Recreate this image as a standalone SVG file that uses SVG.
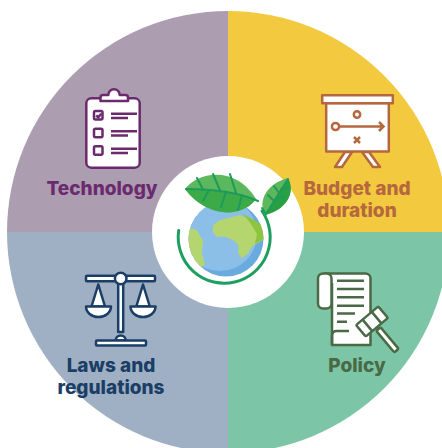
<svg xmlns="http://www.w3.org/2000/svg" width="442" height="448" viewBox="0 0 442 448">
  <style>
    .label { font-family: "Inter", "Liberation Sans", sans-serif; font-weight: 800; font-size: 19px; text-anchor: middle; }
    .ico { stroke-width: 2.5; stroke-linejoin: round; fill: #fff; }
    .ln { stroke-width: 2.5; fill: none; }
    .vein { stroke: #1E9A5C; stroke-width: 2; fill: none; stroke-linecap: round; }
  </style>
  <defs>
    <clipPath id="globeClip"><circle cx="226" cy="239" r="37.5"/></clipPath>
    <clipPath id="bigLeafClip"><path d="M185 189 C198 172 235 165 256 199 C240 220 205 216 185 189 Z"/></clipPath>
    <clipPath id="smallLeafClip"><path d="M265 215 C257 200 268 183 288 178 C296 193 286 210 265 215 Z"/></clipPath>
  </defs>

  <rect width="442" height="448" fill="#fff"/>

  <!-- Quadrant wedges -->
  <g id="wedges">
    <path d="M228 232 V11 A221 221 0 0 0 7 232 Z" fill="#AC9DB1"/>
    <path d="M228 232 V11 A221 221 0 0 1 449 232 Z" fill="#F2C93F"/>
    <path d="M228 232 H449 A221 221 0 0 1 228 453 Z" fill="#7CC6A7"/>
    <path d="M228 232 V453 A221 221 0 0 1 7 232 Z" fill="#A0B0C4"/>
  </g>

  <!-- Technology: clipboard -->
  <g id="technology">
    <g stroke="#6C2A6E">
      <rect class="ico" x="86.3" y="98.3" width="53.4" height="69.4" rx="5"/>
      <path class="ico" d="M100.5 101 V97.5 a2.5 2.5 0 0 1 2.5 -2.5 H108.3 a5.7 5.7 0 0 1 11.4 0 H125.5 a2.5 2.5 0 0 1 2.5 2.5 V101 Z"/>
      <rect class="ico" x="94" y="111" width="8.5" height="8.5" rx="1.5"/>
      <rect class="ico" x="94" y="128.7" width="8.5" height="8.5" rx="1.5"/>
      <rect class="ico" x="94" y="146.3" width="8.5" height="8.5" rx="1.5"/>
      <path class="ln" d="M96.2 115.3 l2 2 l3 -3.5" stroke-width="2"/>
      <path class="ln" d="M111 113.7 H137 M111 118 H128 M111 131.3 H137 M111 135.5 H128 M111 148.8 H137 M111 153 H128"/>
    </g>
    <text class="label" x="102" y="195" fill="#6C2A6E">Technology</text>
  </g>

  <!-- Budget and duration: easel board -->
  <g id="budget">
    <g stroke="#B5673E">
      <path class="ico" d="M345 152 H352 L342 167 H335 Z"/>
      <path class="ico" d="M362 152 H369 L380 167 H373 Z"/>
      <rect class="ico" x="326.2" y="103" width="62.6" height="48.5"/>
      <rect class="ico" x="322.2" y="95.2" width="70.6" height="8"/>
      <circle class="ln" cx="357" cy="114.5" r="3.2"/>
      <circle class="ln" cx="335.5" cy="126.5" r="3.6"/>
      <path class="ln" d="M339.1 126.5 H383.5 M379 122 L383.5 126.5 L379 131"/>
      <path class="ln" d="M354 137 L360 143 M360 137 L354 143"/>
    </g>
    <text class="label" x="357" y="195" fill="#B5673E">Budget and</text>
    <text class="label" x="357" y="217" fill="#B5673E">duration</text>
  </g>

  <!-- Laws and regulations: balance scale -->
  <g id="laws">
    <g stroke="#1A3E66">
      <rect class="ico" x="118.2" y="280" width="5" height="52"/>
      <path class="ico" d="M115.7 340.5 a5 5 0 0 1 10 0 Z"/>
      <rect class="ico" x="96" y="340.5" width="50" height="5" rx="1"/>
      <rect class="ico" x="86" y="275.8" width="69" height="5.5" rx="1"/>
      <circle class="ico" cx="120.7" cy="278.5" r="5.8"/>
      <path class="ico" d="M98.3 284.5 L91.5 306.5 H105 Z"/>
      <path class="ico" d="M86 306.5 H111 A12.5 10.5 0 0 1 86 306.5 Z"/>
      <path class="ico" d="M143 284.5 L136.3 306.5 H149.8 Z"/>
      <path class="ico" d="M130.5 306.5 H155.5 A12.5 10.5 0 0 1 130.5 306.5 Z"/>
    </g>
    <text class="label" x="111" y="372" fill="#1A3E66">Laws and</text>
    <text class="label" x="111" y="394" fill="#1A3E66">regulations</text>
  </g>

  <!-- Policy: scroll with gavel -->
  <g id="policy">
    <g stroke="#4A6A46">
      <path class="ico" d="M324 273.5 H365.5 a5 5 0 0 1 5 5 V345 H332 V283"/>
      <rect class="ico" x="318" y="273.5" width="13.5" height="35" rx="5"/>
      <path class="ln" d="M332 345 V336 Q332 330.5 337.5 331 H349"/>
      <path class="ln" d="M337 280.7 H364 M337 289 H364 M337 297.3 H364 M337 305.7 H364 M337 313.5 H355 M337 321.7 H347"/>
      <g transform="translate(372 321.5) rotate(-40)">
        <rect class="ico" x="10" y="-2.8" width="28" height="5.6" rx="1.5" transform="rotate(90)"/>
        <rect class="ico" x="-14.5" y="-7.5" width="29" height="15" rx="1.5"/>
        <path class="ln" d="M-6 -7.5 V7.5 M6 -7.5 V7.5"/>
      </g>
    </g>
    <text class="label" x="357" y="372" fill="#4A6A46">Policy</text>
  </g>

  <!-- Centre: globe with leaves -->
  <g id="centre">
    <circle cx="228" cy="232" r="76" fill="#fff"/>
    <g clip-path="url(#globeClip)">
      <rect x="186" y="199" width="80" height="80" fill="#6AABDF"/>
      <circle cx="220" cy="234" r="37" fill="#8BBFE8"/>
      <path d="M212.7 231.7 L213.3 225 L220 220 L240 215 L255 222 L266 230 L266 238 L251.7 246.7 L248.3 253.3 L241.7 258.3 L238.3 253.3 L238.3 245 L233.3 240 L225 236.7 L216.7 236.7 Z" fill="#B5D56F"/>
      <path d="M243 214 L256 221 L266 229 L266 238 L255 244 L257 234 L251 224 Z" fill="#8DC440"/>
      <path d="M186 227 L196.7 230 L203.3 241.7 L201.7 251.7 L205 265 L198.3 268.3 L190 258.3 L186 250 Z" fill="#B5D56F"/>
    </g>
    <path d="M178.7 230.5 A46 46 0 1 0 262 211" fill="none" stroke="#1E9E60" stroke-width="3" stroke-linecap="round"/>
    <!-- large leaf -->
    <path d="M185 189 C198 172 235 165 256 199 C240 220 205 216 185 189 Z" fill="#5CB85C"/>
    <g clip-path="url(#bigLeafClip)">
      <path d="M185 189 C215 190 235 192 256 199 L256 225 L185 225 Z" fill="#3DAA4A"/>
    </g>
    <path class="vein" d="M186 189 C215 189 238 192 258 201"/>
    <path class="vein" d="M203 189.5 L197 178 M220 190.5 L213 174 M236 193 L230 174 M209 190 L203 201 M226 191.5 L221 207 M242 195 L238 210"/>
    <!-- small leaf -->
    <path d="M265 215 C257 200 268 183 288 178 C296 193 286 210 265 215 Z" fill="#5DB85C"/>
    <g clip-path="url(#smallLeafClip)">
      <path d="M265 215 L288 178 L300 178 L300 220 Z" fill="#27A043"/>
    </g>
    <path class="vein" d="M262 208 L266 214 L288 179"/>
    <path class="vein" d="M274 201 L268 195 M279 193 L274 186 M276 198 L284 196 M281 189 L289 187"/>
  </g>
</svg>
